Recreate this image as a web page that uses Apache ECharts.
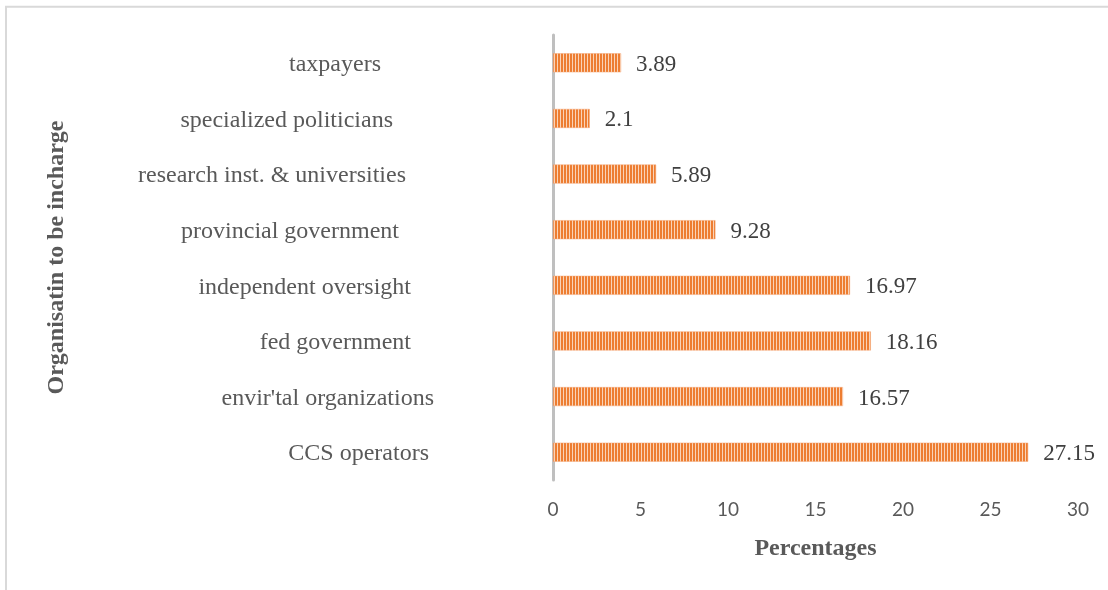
<!DOCTYPE html>
<html>
<head>
<meta charset="utf-8">
<script src="https://cdn.jsdelivr.net/npm/echarts@6/dist/echarts.min.js"></script>
<style>
  html, body { margin: 0; padding: 0; background: #fff; }
  #chart { width: 1108px; height: 590px; }
</style>
</head>
<body>
<div id="chart"></div>
<script>
// Organisations (bottom to top) and the share of respondents choosing each
const categories = [
  'CCS operators',
  "envir'tal organizations",
  'fed government',
  'independent oversight',
  'provincial government',
  'research inst. & universities',
  'specialized politicians',
  'taxpayers'
];
const percentages = [27.15, 16.57, 18.16, 16.97, 9.28, 5.89, 2.1, 3.89];
const xTicks = { min: 0, max: 30, interval: 5 };

// extra right-hand indent of each category label (same order as categories)
const labelIndent = [5, 0, 23, 23, 35, 28, 41, 53];

// vertical-stripe fill for the bars
function stripePattern() {
  const c = document.createElement('canvas');
  c.width = 3; c.height = 4;
  const g = c.getContext('2d');
  g.fillStyle = '#ED7D31';
  g.fillRect(0, 0, 3, 4);
  g.fillStyle = '#FAD3B7';
  g.fillRect(2, 0, 1, 4);
  return c;
}

const serif = '"Liberation Serif", "Times New Roman", serif';
const rich = {};
labelIndent.forEach((p, i) => {
  rich['c' + i] = { padding: [4, p, 0, 0], fontFamily: serif, fontSize: 24, color: '#595959' };
});

const chart = echarts.init(document.getElementById('chart'), null, { renderer: 'canvas' });
chart.setOption({
  animation: false,
  backgroundColor: '#ffffff',
  grid: { left: 553, right: 30, top: 35, bottom: 110, containLabel: false },
  graphic: [{
    type: 'rect',
    shape: { x: 6, y: 6.8, width: 1120, height: 620 },
    style: { fill: 'none', stroke: '#D9D9D9', lineWidth: 2 },
    silent: true
  }],
  xAxis: {
    type: 'value',
    min: xTicks.min, max: xTicks.max, interval: xTicks.interval,
    name: 'Percentages',
    nameLocation: 'middle',
    nameGap: 57,
    nameTextStyle: { fontFamily: serif, fontSize: 24, fontWeight: 'bold', color: '#595959' },
    axisLine: { show: false },
    axisTick: { show: false },
    splitLine: { show: false },
    axisLabel: { margin: 20, fontFamily: 'Lato, "Open Sans", sans-serif', fontSize: 19, color: '#595959' }
  },
  yAxis: {
    type: 'category',
    data: categories,
    name: 'Organisatin to be incharge',
    nameLocation: 'middle',
    nameRotate: 90,
    nameGap: 484,
    nameTextStyle: { fontFamily: serif, fontSize: 24, fontWeight: 'bold', color: '#595959' },
    axisLine: { show: true, lineStyle: { color: '#BFBFBF', width: 3 } },
    axisTick: { show: false },
    axisLabel: {
      margin: 119,
      formatter: (v, i) => '{c' + i + '|' + v + '}',
      rich: rich
    }
  },
  series: [{
    type: 'bar',
    data: percentages,
    barWidth: 19,
    itemStyle: {
      color: { image: stripePattern(), repeat: 'repeat' },
      borderColor: '#F4A777',
      borderWidth: 0.5
    },
    label: {
      show: true,
      position: 'right',
      distance: 15,
      offset: [0, 2],
      fontFamily: serif,
      fontSize: 23,
      color: '#404040'
    }
  }]
});
</script>
</body>
</html>
